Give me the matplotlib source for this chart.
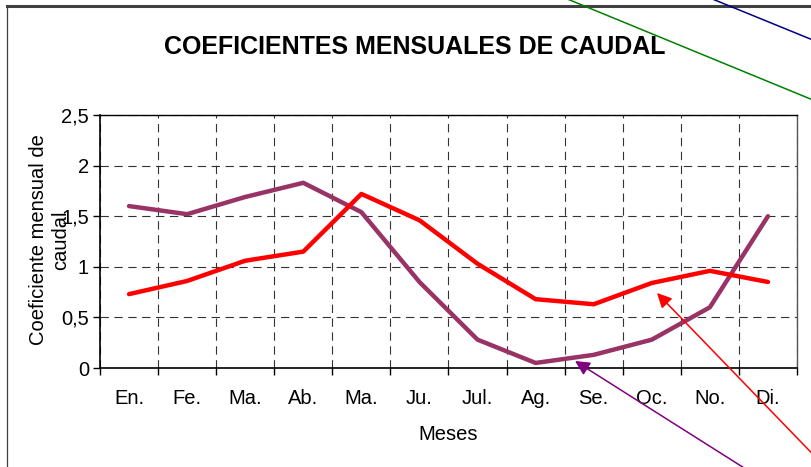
import numpy as np
import matplotlib
matplotlib.use("Agg")
import matplotlib.pyplot as plt
from matplotlib.lines import Line2D
from matplotlib.patches import FancyArrowPatch

plt.rcParams['font.family'] = ['Liberation Sans', 'DejaVu Sans']
plt.rcParams['lines.scale_dashes'] = False

# data
meses = ["En.", "Fe.", "Ma.", "Ab.", "Ma.", "Ju.", "Jul.", "Ag.", "Se.", "Oc.", "No.", "Di."]
serie_roja = [0.73, 0.86, 1.06, 1.15, 1.72, 1.46, 1.03, 0.68, 0.63, 0.84, 0.96, 0.85]
serie_morada = [1.60, 1.52, 1.69, 1.83, 1.54, 0.85, 0.28, 0.05, 0.13, 0.28, 0.60, 1.50]
y_ticks = [0, 0.5, 1, 1.5, 2, 2.5]
y_labels = ["0", "0,5", "1", "1,5", "2", "2,5"]

W, H = 812, 467
fig = plt.figure(figsize=(W / 100, H / 100), dpi=100)


def px(x, y):
    # image pixels (y from top) -> figure fraction
    return x / W, 1 - y / H


ax = fig.add_axes([100 / W, 1 - 368 / H, 697 / W, 253 / H])

x = np.arange(len(meses))
ax.plot(x, serie_morada, color="#993366", lw=3.2, solid_joinstyle="round", solid_capstyle="round", zorder=3)
ax.plot(x, serie_roja, color="#ff0000", lw=3.2, solid_joinstyle="round", solid_capstyle="round", zorder=4)

ax.set_xlim(-0.5, len(meses) - 0.5)
ax.set_ylim(0, 2.5)

# category boundaries as major ticks, labels in the middle as minor ticks
ax.set_xticks(np.arange(-0.5, len(meses), 1))
ax.set_xticklabels([])
ax.set_xticks(x, minor=True)
ax.set_xticklabels(meses, minor=True, fontsize=14.5)
ax.tick_params(axis="x", which="major", direction="out", length=5, width=1)
ax.tick_params(axis="x", which="minor", length=0, pad=15)

ax.set_yticks(y_ticks)
ax.set_yticklabels(y_labels, fontsize=14.5)
ax.tick_params(axis="y", direction="out", length=5, width=1, pad=3)

ax.grid(True, which="major", color="#333333", lw=0.8, linestyle=(0, (6, 4)))
ax.set_axisbelow(True)

for s in ["left", "bottom"]:
    ax.spines[s].set_linewidth(1.2)
    ax.spines[s].set_color("black")
ax.spines["top"].set_linewidth(1.0)
ax.spines["top"].set_color("black")
ax.spines["right"].set_linewidth(1.0)
ax.spines["right"].set_color("#555555")

ax.set_xlabel("Meses", fontsize=14.5, labelpad=12)

fig.text(*px(50, 240), "Coeficiente mensual de\ncaudal", rotation=90,
         ha="center", va="center", multialignment="center", fontsize=14.5)

fig.text(*px(415, 47), "COEFICIENTES MENSUALES DE CAUDAL", ha="center", va="center",
         fontsize=18, fontweight="bold")

# outer chart frame
fig.add_artist(Line2D([px(7, 6)[0], 1.0], [px(7, 6)[1]] * 2, color="#404040", lw=2.2,
                      transform=fig.transFigure))
fig.add_artist(Line2D([px(7, 6)[0]] * 2, [px(7, 6)[1], 0], color="#404040", lw=0.9,
                      transform=fig.transFigure))

# stray drawing lines over the chart
for (x0, y0, x1, y1, c) in [(560, -4, 830, 107, "#008000"), (705, -4, 830, 47, "#000080")]:
    a, b = px(x0, y0)
    c1, d = px(x1, y1)
    fig.add_artist(Line2D([a, c1], [b, d], color=c, lw=1.1, transform=fig.transFigure))

for (x0, y0, x1, y1, c) in [(830, 472, 657, 293, "#ff0000"), (760, 478, 575, 361, "#800080")]:
    arr = FancyArrowPatch(px(x0, y0), px(x1, y1), transform=fig.transFigure,
                          arrowstyle="-|>", mutation_scale=22, color=c, lw=1.1,
                          shrinkA=0, shrinkB=0)
    fig.add_artist(arr)

fig.savefig("out.png", dpi=100)
